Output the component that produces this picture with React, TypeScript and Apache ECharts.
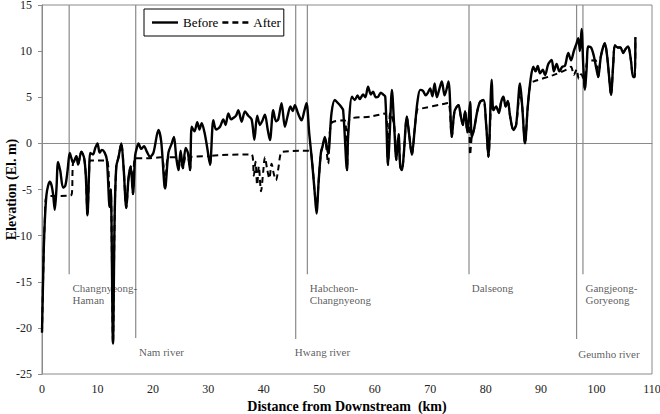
import React, { useEffect, useRef } from "react";
import * as echarts from "echarts";

// River-bed elevation profile along the channel, [distance km, elevation El. m]
const beforeProfile: [number, number][] = [
  [0, -20.5], [0.3, -12], [0.5, -8.5], [0.8, -5.6], [1.1, -4.6], [1.4, -4.15], [1.7, -4.5],
  [2.0, -5.5], [2.3, -7.2], [2.6, -5.0], [2.9, -2.0], [3.3, -3.0], [3.8, -4.8], [4.2, -4.6],
  [4.6, -3.0], [5.0, -1.05], [5.3, -1.6], [5.6, -2.1], [6.2, -1.4], [6.5, -2.3], [7.1, -0.9],
  [7.6, -1.6], [7.9, -3.5], [8.2, -7.8], [8.5, -3.0], [8.7, -1.05], [9.2, -1.2], [9.6, -0.5],
  [10.0, 0.0], [10.4, -1.0], [10.8, -0.7], [11.3, -1.0], [11.7, -1.8], [12.2, -6.9], [12.4, -5.0],
  [12.8, -21.7], [13.1, -8.0], [13.4, -2.5], [13.8, -1.5], [14.3, 0.0], [14.7, -2.5], [15.2, -7.0],
  [15.6, -3.8], [16.0, -2.5], [16.4, -5.5], [16.8, -1.3], [17.1, -0.5], [17.4, 0.0], [17.9, -0.6],
  [18.4, -0.3], [18.9, -0.9], [19.5, -1.45], [20.1, -1.0], [21.0, 1.45], [21.5, 0.2], [22.2, -4.9],
  [22.8, -1.0], [23.4, 0.0], [23.8, 0.7], [24.2, -1.5], [24.6, -2.9], [25.0, -0.8], [25.4, -2.7],
  [25.9, -0.5], [26.3, -1.0], [26.7, -2.9], [27.0, 1.8], [27.5, 1.3], [28.0, 2.3], [28.4, 1.5],
  [28.8, 2.2], [29.3, 1.2], [29.8, -0.5], [30.3, -2.3], [30.9, 2.5], [31.4, 1.5], [32.1, 1.8],
  [32.7, 2.6], [33.1, 2.0], [33.6, 3.25], [34.1, 2.6], [34.6, 2.8], [35.0, 3.0], [35.4, 3.6],
  [36.0, 2.35], [36.6, 3.45], [37.2, 3.0], [37.8, 2.6], [38.3, 0.4], [38.8, 3.0], [39.3, 2.0],
  [39.7, 2.4], [40.2, 3.1], [40.7, 1.5], [41.1, 0.35], [41.7, 3.6], [42.2, 2.4], [42.6, 2.6],
  [43.2, 4.35], [43.8, 1.8], [44.3, 3.0], [44.8, 4.0], [45.2, 3.5], [45.6, 4.15], [46.2, 3.2],
  [46.8, 2.5], [47.3, 3.5], [47.7, 4.35], [48.2, 1.0], [48.7, -2.0], [49.2, -5.5], [49.5, -7.6],
  [49.9, -4.0], [50.3, -1.0], [50.6, -0.3], [51.0, 0.7], [51.6, -1.1], [52.2, 3.25], [52.8, 4.7],
  [53.4, 4.35], [53.9, 4.0], [54.3, 3.6], [55.0, -2.9], [55.2, 0.7], [55.9, 5.05], [56.4, 4.7],
  [56.9, 5.2], [57.3, 4.8], [57.9, 5.3], [58.3, 5.0], [58.8, 6.15], [59.3, 5.3], [59.7, 5.6],
  [60.2, 5.0], [60.6, 5.05], [61.1, 5.5], [61.5, 5.3], [61.9, 5.05], [62.4, -2.35], [62.7, 1.0],
  [63.1, 5.8], [63.5, 2.0], [63.9, -1.8], [64.3, 1.0], [64.6, -2.5], [64.9, -2.9], [65.2, -1.5],
  [65.8, 2.9], [66.2, 1.0], [66.7, -1.25], [67.2, 1.5], [67.7, 4.5], [68.2, 5.8], [68.7, 5.7],
  [69.2, 5.2], [69.6, 5.5], [70.0, 5.95], [70.4, 5.1], [70.8, 6.5], [71.2, 5.0], [71.7, 6.0],
  [72.1, 6.7], [72.6, 5.2], [73.3, 6.7], [73.9, 0.7], [74.4, 3.5], [75.1, 4.15], [75.5, 3.0],
  [75.9, 2.0], [76.3, 3.5], [76.7, 1.2], [77.2, 4.5], [77.5, 0.7], [77.9, 1.5], [78.5, 3.5],
  [79.0, 4.5], [79.6, 4.7], [80.1, 2.0], [80.5, -1.45], [81.1, 6.9], [81.4, 3.6], [81.9, 4.0],
  [82.4, 3.3], [82.8, 4.5], [83.2, 5.05], [83.6, 4.0], [84.0, 4.6], [84.4, 3.0], [85.0, 1.45],
  [85.5, 2.0], [86.2, 6.5], [86.6, 4.0], [87.1, 0.0], [87.6, 4.0], [88.1, 6.9], [88.6, 8.3],
  [89.0, 7.8], [89.4, 8.4], [89.8, 7.6], [90.3, 8.0], [90.7, 7.4], [91.3, 8.6], [91.9, 9.05],
  [92.3, 7.8], [92.8, 8.6], [93.3, 7.8], [93.8, 8.3], [94.3, 8.4], [94.9, 9.8], [95.4, 9.0],
  [95.9, 10.0], [96.4, 10.85], [96.7, 11.4], [97.0, 10.0], [97.3, 12.4], [97.6, 8.5], [97.9, 5.8],
  [98.2, 8.0], [98.5, 10.5], [99.0, 10.4], [99.5, 9.5], [100.0, 8.0], [100.3, 7.2], [100.8, 9.5],
  [101.5, 10.85], [101.9, 9.5], [102.3, 7.0], [102.6, 5.25], [103.0, 8.5], [103.3, 10.65],
  [103.8, 10.4], [104.3, 10.4], [104.8, 9.8], [105.2, 10.2], [105.7, 10.5], [106.2, 9.0],
  [106.6, 7.2], [106.9, 7.2], [107.0, 11.5],
];

// Profile after dredging
const afterProfile: [number, number][] = [
  [0, -20.5], [0.3, -12], [0.5, -8.5], [0.8, -5.8], [5.3, -5.6], [5.6, -2.1], [6.2, -1.4],
  [6.5, -2.3], [7.1, -0.9], [7.6, -1.6], [7.9, -3.5], [8.2, -7.8], [8.5, -3.0], [8.7, -1.85],
  [11.7, -1.85], [12.2, -6.9], [12.4, -5.0], [12.8, -21.7], [13.1, -8.0], [13.4, -2.5],
  [13.8, -1.5], [14.3, 0.0], [14.7, -2.5], [15.2, -7.0], [15.6, -3.8], [16.0, -2.5], [16.4, -5.5],
  [16.8, -1.6], [19.5, -1.6], [21.5, -1.5], [22.2, -4.9], [22.8, -1.5], [24.2, -1.5], [24.6, -2.9],
  [25.0, -1.5], [25.4, -2.7], [25.9, -1.5], [26.3, -1.5], [26.7, -2.9], [27.0, -1.45], [30.0, -1.4],
  [30.3, -2.3], [30.6, -1.35], [37.8, -1.2], [38.2, -3.5], [38.5, -2.0], [38.8, -4.5], [39.1, -2.5],
  [39.5, -5.2], [39.9, -3.0], [40.2, -1.5], [40.6, -2.8], [41.0, -3.8], [41.4, -2.2], [41.8, -3.3],
  [42.2, -4.0], [42.6, -2.8], [43.0, -1.2], [43.4, -0.9], [48.2, -0.8], [48.7, -2.0], [49.2, -5.5],
  [49.5, -7.0], [49.9, -4.0], [50.3, -1.0], [50.6, -0.3], [51.0, 0.5], [51.6, -2.2], [52.2, 2.2],
  [54.6, 2.5], [55.0, -2.9], [55.4, 2.55], [59.2, 2.9], [61.9, 3.25], [62.4, -2.35], [62.8, 3.3],
  [63.5, 2.0], [63.9, -1.8], [64.3, 1.0], [64.6, -2.5], [64.9, -2.9], [65.2, -1.5], [65.8, 2.9],
  [66.2, 1.0], [66.7, -1.25], [67.2, 1.5], [67.7, 3.7], [68.2, 3.75], [72.6, 4.3], [73.3, 4.4],
  [73.9, 0.7], [74.4, 3.5], [75.1, 4.15], [75.5, 3.0], [75.9, 2.0], [76.3, 3.5], [76.7, 1.2],
  [77.0, 2.0], [77.2, -1.25], [77.5, 0.7], [77.9, 1.5], [78.5, 3.5], [79.0, 4.5], [79.6, 4.7],
  [80.1, 2.0], [80.5, -1.45], [81.1, 4.9], [81.4, 3.6], [81.9, 4.0], [82.4, 3.3], [82.8, 4.5],
  [83.2, 5.0], [83.6, 4.0], [84.0, 4.6], [84.4, 3.0], [85.0, 1.45], [85.5, 2.0], [86.2, 5.5],
  [86.6, 4.0], [87.1, 0.0], [87.6, 4.0], [88.1, 6.5], [88.6, 6.7], [92.2, 7.4], [94.6, 8.0],
  [95.4, 8.3], [95.9, 7.4], [96.4, 8.0], [96.8, 7.0], [97.2, 7.5], [97.6, 7.0], [97.9, 5.8],
  [98.3, 8.8], [99.8, 9.0], [100.3, 7.2], [100.8, 9.5], [101.5, 10.85], [101.9, 9.5], [102.3, 7.0],
  [102.6, 5.25], [103.0, 8.5], [103.3, 10.65], [103.8, 10.4], [104.3, 10.4], [104.8, 9.8],
  [105.2, 10.2], [105.7, 10.5], [106.2, 9.0], [106.6, 7.2], [106.9, 7.2], [107.0, 11.5],
];

// Weirs and tributary confluences along the reach
const landmarkNames = [
  "Changnyeong-\nHaman", "Nam river", "Hwang river", "Habcheon-\nChangnyeong",
  "Dalseong", "Geumho river", "Gangjeong-\nGoryeong",
];
const landmarkKm = [4.9, 16.9, 45.75, 47.85, 77.0, 96.4, 97.55];
const landmarkLineEnd = [-14.2, -21.1, -21.2, -14.2, -14.2, -21.2, -14.2];
const landmarkLabelKm = [5.5, 17.5, 45.6, 48.3, 77.5, 96.7, 98.0];
const landmarkLabelElev = [-15.0, -22.0, -22.0, -15.0, -15.0, -22.2, -15.0];

const SERIF = "'Liberation Serif', 'DejaVu Serif', serif";

// Legend glyphs: a solid stroke and a three-dash stroke
const SOLID_ICON = "path://M0,0h26v2.4h-26z";
const DASH_ICON = "path://M0,0h6v2.4h-6z M10,0h6v2.4h-6z M20,0h6v2.4h-6z";

export default function App() {
  const ref = useRef<HTMLDivElement>(null);

  useEffect(() => {
    if (!ref.current) return;
    const chart = echarts.init(ref.current, null, { renderer: "svg" });

    const landmarkLines = landmarkKm.map((km, i) => ({
      type: "line",
      name: "landmark-" + i,
      data: [[km, 15], [km, landmarkLineEnd[i]]],
      symbol: "none",
      silent: true,
      z: 1,
      lineStyle: { color: "#8a8a8a", width: 1.2 },
    }));

    chart.setOption({
      animation: false,
      backgroundColor: "#ffffff",
      grid: {
        left: 42, right: 8, top: 5, bottom: 40,
        outerBoundsMode: "none",
        containLabel: false,
        show: true, borderColor: "#8a8a8a", borderWidth: 1,
      },
      legend: {
        data: [
          { name: "Before", icon: SOLID_ICON, itemStyle: { color: "#000" } },
          { name: "After", icon: DASH_ICON, itemStyle: { color: "#000" } },
        ],
        left: 144, top: 9,
        borderColor: "#000", borderWidth: 1,
        padding: [7, 3, 7, 8],
        itemWidth: 26, itemHeight: 3, itemGap: 4,
        textStyle: { fontFamily: SERIF, fontSize: 13, color: "#000" },
      },
      xAxis: {
        type: "value", min: 0, max: 110, interval: 10,
        name: "Distance from Downstream  (km)",
        nameLocation: "middle", nameGap: 25,
        nameMoveOverlap: false,
        nameTextStyle: { fontFamily: SERIF, fontSize: 14, fontWeight: "bold", color: "#000" },
        axisLine: { lineStyle: { color: "#8a8a8a" } },
        axisTick: { show: false },
        splitLine: { show: false },
        axisLabel: { fontFamily: SERIF, fontSize: 12, color: "#222", margin: 9 },
      },
      yAxis: {
        type: "value", min: -25, max: 15, interval: 5,
        name: "Elevation (El. m)",
        nameLocation: "middle", nameGap: 24, nameRotate: 90,
        nameMoveOverlap: false,
        nameTextStyle: { fontFamily: SERIF, fontSize: 14, fontWeight: "bold", color: "#000" },
        axisLine: { show: true, lineStyle: { color: "#8a8a8a" } },
        axisTick: { show: true, length: 4, lineStyle: { color: "#8a8a8a" } },
        splitLine: { show: false },
        axisLabel: { fontFamily: SERIF, fontSize: 12, color: "#222", margin: 10 },
      },
      series: [
        ...landmarkLines,
        {
          type: "scatter",
          name: "landmark-labels",
          silent: true,
          symbolSize: 0,
          data: landmarkNames.map((n, i) => [landmarkLabelKm[i], landmarkLabelElev[i], n]),
          label: {
            show: true,
            position: [0, 0],
            align: "left",
            verticalAlign: "top",
            formatter: (p: any) => p.data[2],
            fontFamily: SERIF, fontSize: 11, lineHeight: 12, color: "#333",
          },
        },
        {
          type: "line",
          name: "After",
          data: afterProfile,
          symbol: "none",
          smooth: 0.3,
          z: 3,
          itemStyle: { color: "#000" },
          lineStyle: { color: "#000", width: 2, type: [6, 4] },
        },
        {
          type: "line",
          name: "Before",
          data: beforeProfile,
          symbol: "none",
          smooth: 0.3,
          z: 4,
          itemStyle: { color: "#000" },
          lineStyle: { color: "#000", width: 2.4 },
        },
      ],
    });

    return () => chart.dispose();
  }, []);

  return (
    <div
      ref={ref}
      style={{ position: "absolute", left: 0, top: 0, width: 660, height: 414 }}
    />
  );
}
